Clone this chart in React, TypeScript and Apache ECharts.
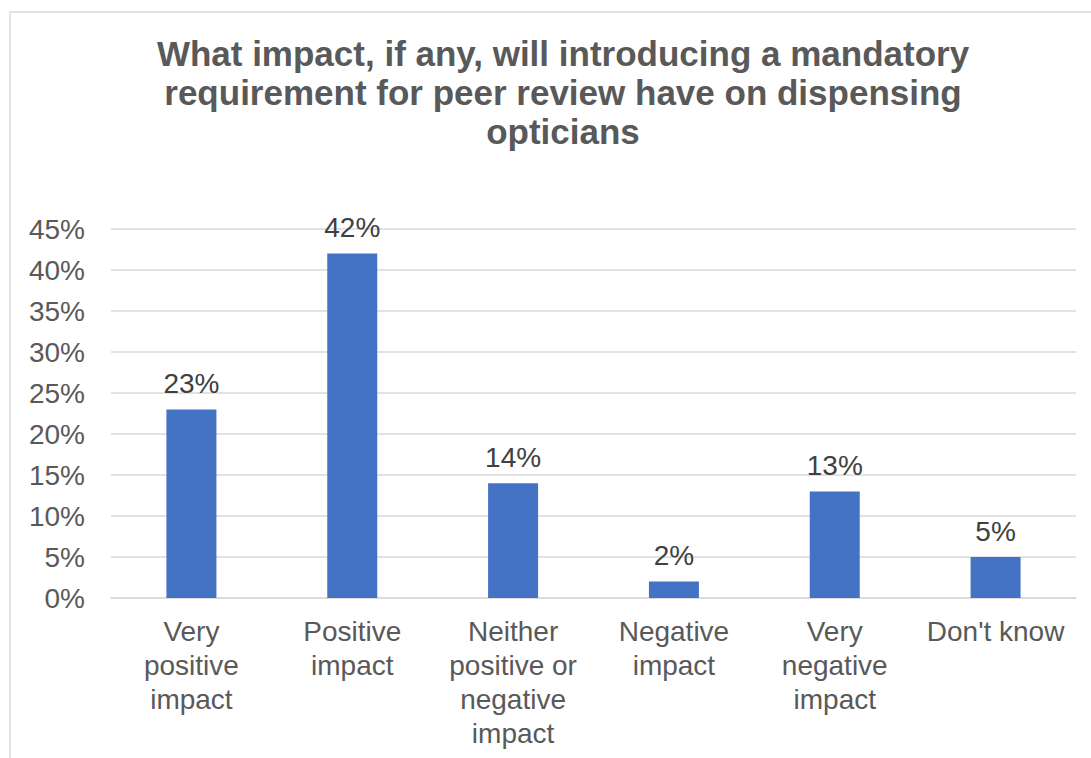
import React, { useEffect, useRef } from "react";
import * as echarts from "echarts";

const titleText =
  "What impact, if any, will introducing a mandatory\nrequirement for peer review have on dispensing\nopticians";
const categories = [
  "Very\npositive\nimpact",
  "Positive\nimpact",
  "Neither\npositive or\nnegative\nimpact",
  "Negative\nimpact",
  "Very\nnegative\nimpact",
  "Don't know",
];
const values = [23, 42, 14, 2, 13, 5];
const yMax = 45;
const yInterval = 5;

const FONT = "'Liberation Sans', Arial, sans-serif";

export default function App() {
  const ref = useRef<HTMLDivElement>(null);
  useEffect(() => {
    if (!ref.current) return;
    const chart = echarts.init(ref.current, undefined, { renderer: "svg" });
    chart.setOption({
      animation: false,
      backgroundColor: "#ffffff",
      title: {
        text: titleText,
        left: 558,
        top: 29,
        textAlign: "center",
        textStyle: {
          fontFamily: FONT,
          fontSize: 35,
          fontWeight: "bold",
          color: "#595959",
          lineHeight: 39,
        },
      },
      graphic: [
        {
          type: "rect",
          shape: { x: 10, y: 12, width: 1200, height: 900 },
          style: { fill: "none", stroke: "#d9d9d9", lineWidth: 1.5 },
          silent: true,
          z: -1,
        },
      ],
      grid: { left: 111, right: 15, top: 229, bottom: 160 },
      xAxis: {
        type: "category",
        data: categories,
        axisLine: { show: true, lineStyle: { color: "#d9d9d9", width: 1.5 } },
        axisTick: { show: false },
        axisLabel: {
          interval: 0,
          margin: 16,
          fontFamily: FONT,
          fontSize: 28,
          lineHeight: 34,
          color: "#595959",
          align: "center",
        },
      },
      yAxis: {
        type: "value",
        min: 0,
        max: yMax,
        interval: yInterval,
        axisLine: { show: false },
        axisTick: { show: false },
        splitLine: { lineStyle: { color: "#d9d9d9", width: 1.5 } },
        axisLabel: {
          formatter: "{value}%",
          margin: 26,
          fontFamily: FONT,
          fontSize: 28,
          color: "#595959",
        },
      },
      series: [
        {
          type: "bar",
          data: values,
          barWidth: 50,
          itemStyle: { color: "#4472C4" },
          label: {
            show: true,
            position: "top",
            distance: 12,
            formatter: "{c}%",
            fontFamily: FONT,
            fontSize: 28,
            color: "#404040",
          },
        },
      ],
    });
    return () => chart.dispose();
  }, []);
  return (
    <div
      ref={ref}
      style={{ position: "fixed", left: 0, top: 0, width: 1091, height: 758 }}
    />
  );
}
